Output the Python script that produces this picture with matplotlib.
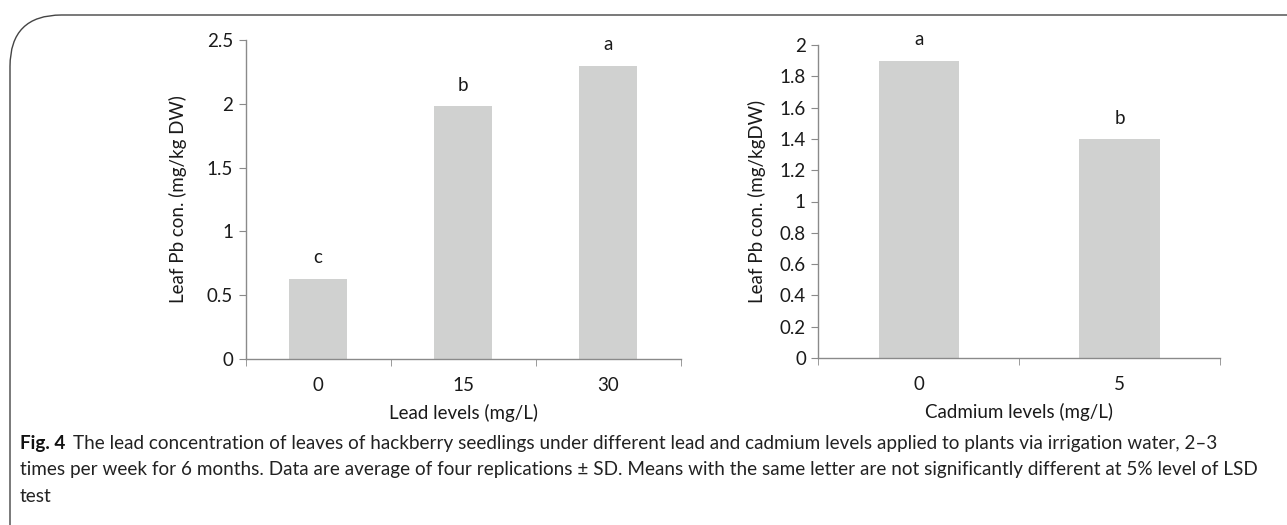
import matplotlib
matplotlib.use("Agg")
import matplotlib.pyplot as plt
from matplotlib.patches import FancyBboxPatch
from matplotlib import font_manager

# ---- data ----
lead_levels = ["0", "15", "30"]
lead_values = [0.63, 1.98, 2.30]
lead_letters = ["c", "b", "a"]

cd_levels = ["0", "5"]
cd_values = [1.90, 1.40]
cd_letters = ["a", "b"]

lead_yticks = [0, 0.5, 1, 1.5, 2, 2.5]
lead_yticklabels = ["0", "0.5", "1", "1.5", "2", "2.5"]
cd_yticks = [0, 0.2, 0.4, 0.6, 0.8, 1, 1.2, 1.4, 1.6, 1.8, 2]
cd_yticklabels = ["0", "0.2", "0.4", "0.6", "0.8", "1", "1.2", "1.4", "1.6", "1.8", "2"]

caption_bold = "Fig. 4"
caption_lines = [
    "The lead concentration of leaves of hackberry seedlings under different lead and cadmium levels applied to plants via irrigation water, 2\u20133",
    "times per week for 6 months. Data are average of four replications \u00b1 SD. Means with the same letter are not significantly different at 5% level of LSD",
    "test",
]

avail = {f.name for f in font_manager.fontManager.ttflist}
chart_font = "Lato" if "Lato" in avail else "DejaVu Sans"
cap_font = "Lato" if "Lato" in avail else "DejaVu Sans"

W, H = 1287, 525
fig = plt.figure(figsize=(W / 100, H / 100), dpi=100)

bar_color = "#d0d1d0"
axis_color = "#8a8a8a"
text_color = "#1a1a1a"
fs = 13.5

def draw(ax, cats, vals, letters, yticks, ylabels, ymax, ylabel, xlabel, ylpad):
    x = list(range(len(cats)))
    ax.bar(x, vals, width=0.4, color=bar_color, edgecolor="none", zorder=2)
    ax.set_xlim(-0.5, len(cats) - 0.5)
    ax.set_ylim(0, ymax)
    ax.set_yticks(yticks)
    ax.set_yticklabels(ylabels, fontsize=fs, color=text_color, family=chart_font)
    ax.set_xticks(x)
    ax.set_xticklabels(cats, fontsize=fs, color=text_color, family=chart_font)
    ax.set_xticks([i - 0.5 for i in range(len(cats) + 1)], minor=True)
    ax.tick_params(axis="x", which="major", length=0, pad=13)
    ax.tick_params(axis="x", which="minor", length=5, color=axis_color, direction="out")
    ax.tick_params(axis="y", length=5, color=axis_color, direction="out", pad=4)
    for s in ["top", "right"]:
        ax.spines[s].set_visible(False)
    for s in ["left", "bottom"]:
        ax.spines[s].set_color(axis_color)
        ax.spines[s].set_linewidth(1.0)
    for xi, v, l in zip(x, vals, letters):
        ax.annotate(l, (xi, v), xytext=(0, 15), textcoords="offset points",
                    ha="center", va="center", fontsize=fs, color=text_color,
                    family=chart_font)
    ax.set_ylabel(ylabel, fontsize=fs, color=text_color, family=chart_font, labelpad=ylpad)
    ax.set_xlabel(xlabel, fontsize=fs, color=text_color, family=chart_font, labelpad=7)

def frac(x0, y0, x1, y1):
    return [x0 / W, 1 - y1 / H, (x1 - x0) / W, (y1 - y0) / H]

ax1 = fig.add_axes(frac(245.5, 40, 681, 359))
draw(ax1, lead_levels, lead_values, lead_letters, lead_yticks, lead_yticklabels, 2.5,
     "Leaf Pb con. (mg/kg DW)", "Lead levels (mg/L)", 14)
ax2 = fig.add_axes(frac(818.4, 45, 1220, 358))
draw(ax2, cd_levels, cd_values, cd_letters, cd_yticks, cd_yticklabels, 2.0,
     "Leaf Pb con. (mg/kgDW)", "Cadmium levels (mg/L)", 10)

# frame
frame = FancyBboxPatch((10 / W, -0.2), 1.2, (H - 15) / H + 0.2,
                       boxstyle="round,pad=0,rounding_size=0.04",
                       transform=fig.transFigure, fill=False,
                       edgecolor="#444444", linewidth=1.0, mutation_aspect=W / H)
fig.add_artist(frame)

# caption, sized so the lines fit the widths seen in the reference
fig.canvas.draw()
r = fig.canvas.get_renderer()

def width_at(size):
    tb = fig.text(0, 0, caption_bold, fontsize=size, fontweight="bold", family=cap_font)
    t1 = fig.text(0, 0, caption_lines[0], fontsize=size, family=cap_font)
    t2 = fig.text(0, 0, caption_lines[1], fontsize=size, family=cap_font)
    w1 = tb.get_window_extent(r).width + 8 + t1.get_window_extent(r).width
    w2 = t2.get_window_extent(r).width
    tb.remove(); t1.remove(); t2.remove()
    return w1, w2

cap_size = 12.0
for _ in range(3):
    w1, w2 = width_at(cap_size)
    cap_size = cap_size * min((1268 - 20) / w1, (1250 - 20) / w2)

t = fig.text(20 / W, 1 - 443 / H, caption_bold, fontsize=cap_size, fontweight="bold",
             family=cap_font, color="#111111", va="center", ha="left")
bb = t.get_window_extent(r)
start_x = (bb.x1 + 8) / W
fig.text(start_x, 1 - 443 / H, caption_lines[0], fontsize=cap_size, family=cap_font,
         color="#222222", va="center", ha="left")
fig.text(20 / W, 1 - 470 / H, caption_lines[1], fontsize=cap_size, family=cap_font,
         color="#222222", va="center", ha="left")
fig.text(20 / W, 1 - 496 / H, caption_lines[2], fontsize=cap_size, family=cap_font,
         color="#222222", va="center", ha="left")

fig.savefig("out.png", dpi=100)
